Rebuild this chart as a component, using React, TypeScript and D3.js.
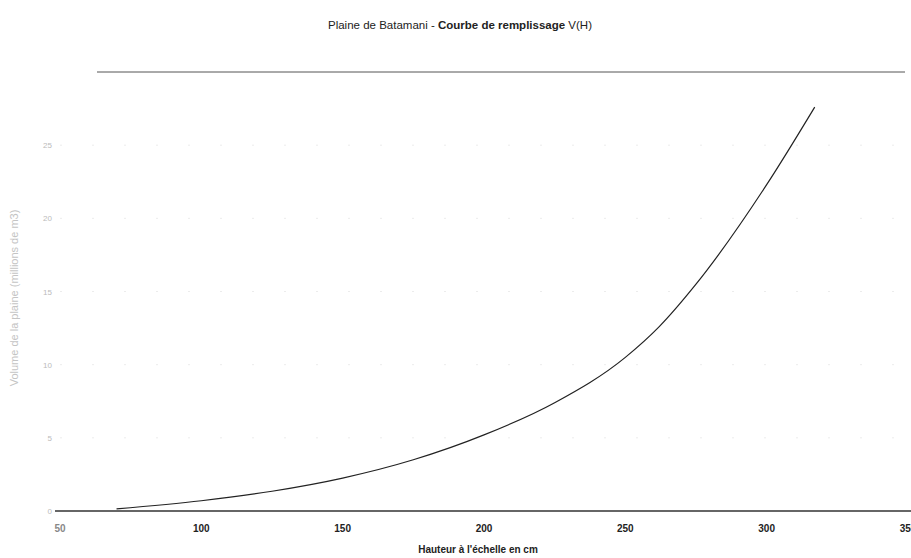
import { useEffect } from "react";
import * as d3 from "d3";

// hauteur à l'échelle (cm) et volume
const hauteurs = [70, 100, 125, 150, 175, 200, 225, 250, 262, 275, 300, 317];
const volumes = [0.15, 0.7, 1.35, 2.25, 3.5, 5.2, 7.4, 10.5, 12.6, 15.5, 22.3, 27.6];

const xTicks = [50, 100, 150, 200, 250, 300, 350];
const yTicks = [0, 5, 10, 15, 20, 25];

const width = 911;
const height = 558;
const left = 60;
const right = 908;
const top = 72;
const bottom = 511;

function App() {
  useEffect(() => {
    document.body.style.margin = "0";
  }, []);

  const x = d3.scaleLinear().domain([50, 350]).range([left, right]);
  const y = d3.scaleLinear().domain([0, 30]).range([bottom, top]);

  const data = hauteurs.map((h, i) => ({ h, v: volumes[i] }));
  const line = d3
    .line<{ h: number; v: number }>()
    .x((d) => x(d.h))
    .y((d) => y(d.v))
    .curve(d3.curveMonotoneX);

  const font = "Liberation Sans, Arial, sans-serif";

  return (
    <svg width={width} height={height} style={{ display: "block", background: "#fff" }} fontFamily={font}>
      <text x={460} y={29} textAnchor="middle" fontSize={11.5} fill="#222">
        Plaine de Batamani - <tspan fontWeight="bold">Courbe de remplissage</tspan> V(H)
      </text>

      {/* grille très pâle */}
      {yTicks.slice(1).map((t) => (
        <line key={t} x1={left} x2={right} y1={y(t)} y2={y(t)} stroke="#ececec" strokeDasharray="2,30" />
      ))}

      {/* cadre haut */}
      <line x1={97} x2={905} y1={y(30)} y2={y(30)} stroke="#555" strokeWidth={1} />
      {/* axe des x */}
      <line x1={55} x2={911} y1={bottom} y2={bottom} stroke="#333" strokeWidth={1.5} />

      {yTicks.map((t) => (
        <text key={t} x={52} y={y(t) + 3} textAnchor="end" fontSize={8} fill="#bbb">
          {t}
        </text>
      ))}

      {xTicks.map((t) => (
        <text key={t} x={x(t)} y={532} textAnchor="middle" fontSize={10} fontWeight="bold" fill={t === 50 ? "#888" : "#222"}>
          {t}
        </text>
      ))}

      <path d={line(data) ?? ""} fill="none" stroke="#222" strokeWidth={1.2} />

      <text x={478} y={553} textAnchor="middle" fontSize={10} fontWeight="bold" fill="#222">
        Hauteur à l'échelle en cm
      </text>

      <text
        transform={`translate(18, 298) rotate(-90)`}
        textAnchor="middle"
        fontSize={11}
        fill="#c4c4c4"
      >
        Volume de la plaine (millions de m3)
      </text>
    </svg>
  );
}

export default App;
